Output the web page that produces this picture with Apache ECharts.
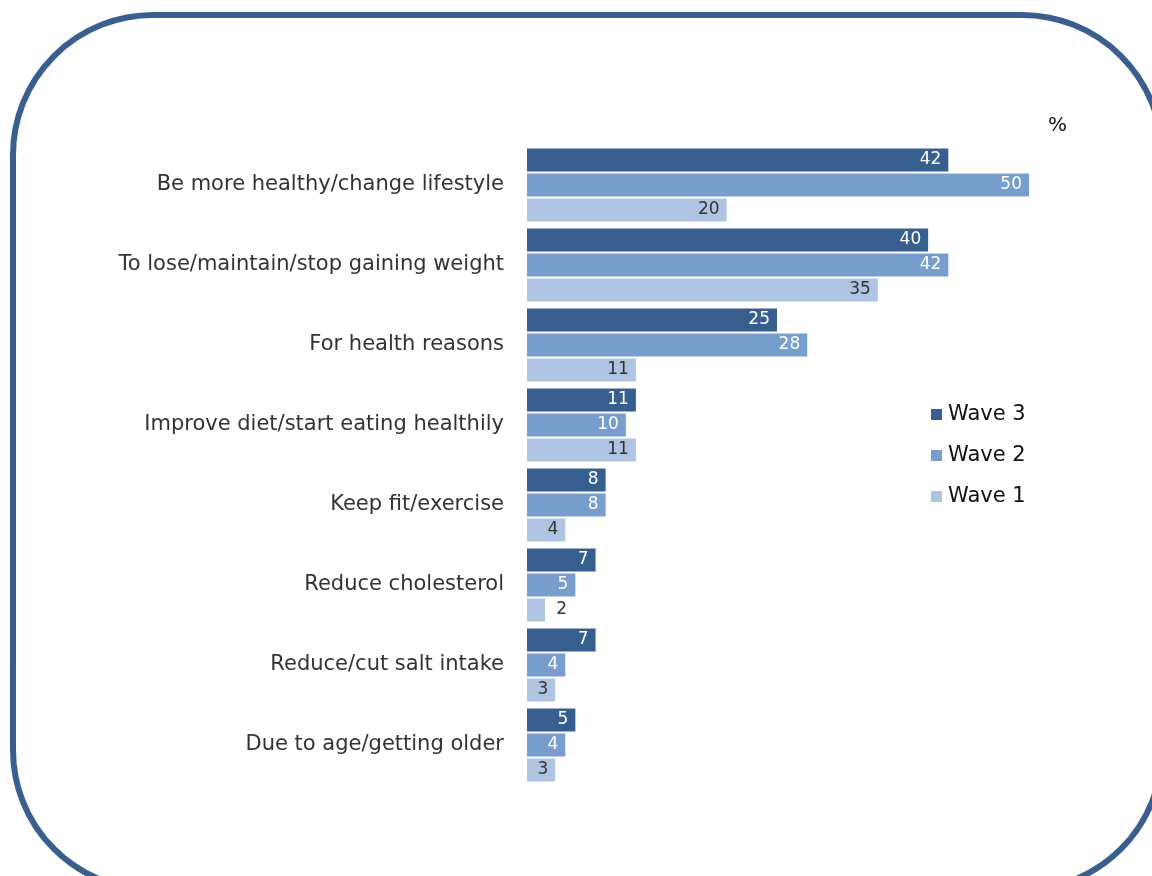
<!DOCTYPE html>
<html>
<head>
<meta charset="utf-8">
<title>Reasons</title>
<script src="https://cdn.jsdelivr.net/npm/echarts@6/dist/echarts.min.js"></script>
<style>
  html, body { margin: 0; padding: 0; background: #ffffff; }
  #chart { width: 1152px; height: 876px; }
</style>
</head>
<body>
<div id="chart"></div>
<script>
// Reasons given, % of respondents per survey wave
const categories = [
  'Be more healthy/change lifestyle',
  'To lose/maintain/stop gaining weight',
  'For health reasons',
  'Improve diet/start eating healthily',
  'Keep fit/exercise',
  'Reduce cholesterol',
  'Reduce/cut salt intake',
  'Due to age/getting older'
];
const wave3 = [42, 40, 25, 11, 8, 7, 7, 5];
const wave2 = [50, 42, 28, 10, 8, 5, 4, 4];
const wave1 = [20, 35, 11, 11, 4, 2, 3, 3];
const seriesNames = ['Wave 3', 'Wave 2', 'Wave 1'];

const colors = ['#365f8f', '#789ecd', '#aec4e2'];
const labelColors = ['#ffffff', '#ffffff', '#333333'];
const FONT = 'DejaVu Sans, Verdana, sans-serif';

function makeSeries(name, values, idx) {
  return {
    name: name,
    type: 'bar',
    barGap: '0%',
    barCategoryGap: '6.25%',
    itemStyle: { color: colors[idx], borderColor: '#ffffff', borderWidth: 1 },
    label: {
      show: true,
      position: 'insideRight',
      distance: 8,
      color: labelColors[idx],
      fontFamily: FONT,
      fontSize: 17
    },
    data: values.map(v => {
      // very short bars carry their value just outside the bar end
      if (v < 3) {
        return { value: v, label: { position: 'right', distance: 10, color: '#333333' } };
      }
      return v;
    })
  };
}

const chart = echarts.init(document.getElementById('chart'), null, { renderer: 'canvas' });
chart.setOption({
  animation: false,
  backgroundColor: '#ffffff',
  graphic: [
    {
      type: 'rect',
      shape: { x: 13, y: 15, width: 1149, height: 875, r: 140 },
      style: { fill: 'none', stroke: '#3a5f8f', lineWidth: 6 },
      silent: true
    },
    {
      type: 'text',
      left: 1048,
      top: 116,
      style: { text: '%', fontFamily: FONT, fontSize: 20, fill: '#111111' }
    }
  ],
  legend: {
    orient: 'vertical',
    left: 924,
    top: 399,
    itemWidth: 13,
    itemHeight: 13,
    itemGap: 20,
    icon: 'rect',
    data: seriesNames,
    textStyle: { fontFamily: FONT, fontSize: 21, color: '#111111', padding: [0, 0, 0, 0] }
  },
  grid: { left: 526, right: 122, top: 145, bottom: 91, containLabel: false },
  xAxis: {
    type: 'value',
    min: 0,
    max: 50,
    show: false
  },
  yAxis: {
    type: 'category',
    inverse: true,
    data: categories,
    axisLine: { show: false },
    axisTick: { show: false },
    splitLine: { show: false },
    axisLabel: {
      margin: 22,
      fontFamily: FONT,
      fontSize: 21,
      color: '#333333'
    }
  },
  series: [
    makeSeries(seriesNames[0], wave3, 0),
    makeSeries(seriesNames[1], wave2, 1),
    makeSeries(seriesNames[2], wave1, 2)
  ]
});
</script>
</body>
</html>
